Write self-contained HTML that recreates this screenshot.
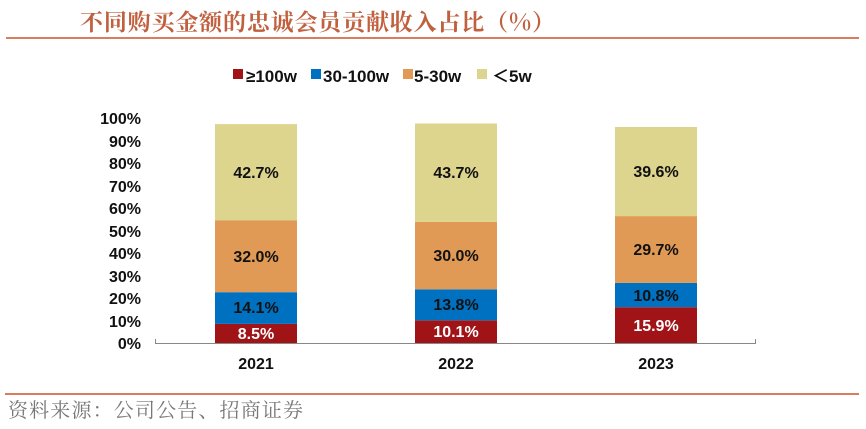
<!DOCTYPE html>
<html><head><meta charset="utf-8"><style>
body{margin:0;background:#fff;}
svg{display:block;}
</style></head><body>
<svg width="866" height="429" xmlns="http://www.w3.org/2000/svg" font-family="Liberation Sans, Noto Sans CJK SC, sans-serif">
<text x="80" y="30" font-size="23" fill="#c0603f" font-family="Noto Serif CJK SC, serif" font-weight="bold" textLength="475">不同购买金额的忠诚会员贡献收入占比（%）</text>
<rect x="6" y="37" width="853" height="2" fill="#d97d5f"/>
<rect x="5" y="393" width="854" height="2" fill="#d97d5f"/>
<text x="8" y="417" font-size="20" fill="#777" font-family="Noto Serif CJK SC, serif" textLength="295">资料来源：公司公告、招商证券</text>
<g font-size="17" font-weight="bold" fill="#111">
<rect x="233" y="69" width="10" height="10" fill="#a01418"/><text x="246" y="82">≥100w</text>
<rect x="311" y="69" width="10" height="10" fill="#0070c0"/><text x="323" y="82">30-100w</text>
<rect x="403" y="69" width="10" height="10" fill="#e09a55"/><text x="414" y="82">5-30w</text>
<rect x="477" y="69" width="10" height="10" fill="#ddd48e"/><text x="492" y="82">＜5w</text>
</g>
<g font-size="16" font-weight="bold" fill="#111" text-anchor="end">
<text x="141" y="124">100%</text><text x="141" y="147">90%</text><text x="141" y="169">80%</text><text x="141" y="192">70%</text><text x="141" y="214">60%</text><text x="141" y="237">50%</text><text x="141" y="259">40%</text><text x="141" y="282">30%</text><text x="141" y="304">20%</text><text x="141" y="327">10%</text><text x="141" y="349">0%</text>
</g>
<rect x="215" y="323.9" width="82" height="19.1" fill="#a01418"/>
<rect x="215" y="292.2" width="82" height="31.7" fill="#0070c0"/>
<rect x="215" y="220.2" width="82" height="72" fill="#e09a55"/>
<rect x="215" y="124.1" width="82" height="96.1" fill="#ddd48e"/>
<rect x="415" y="320.3" width="82" height="22.7" fill="#a01418"/>
<rect x="415" y="289.3" width="82" height="31" fill="#0070c0"/>
<rect x="415" y="221.8" width="82" height="67.5" fill="#e09a55"/>
<rect x="415" y="123.5" width="82" height="98.3" fill="#ddd48e"/>
<rect x="615" y="307.2" width="82" height="35.8" fill="#a01418"/>
<rect x="615" y="282.9" width="82" height="24.3" fill="#0070c0"/>
<rect x="615" y="216.1" width="82" height="66.8" fill="#e09a55"/>
<rect x="615" y="127" width="82" height="89.1" fill="#ddd48e"/>
<path d="M155.5 339V343.5H755.5V339" stroke="#888" fill="none"/>
<g font-size="16" font-weight="bold" text-anchor="middle" fill="#111">
<text x="256" y="339" fill="#fff">8.5%</text><text x="256" y="313">14.1%</text><text x="256" y="262">32.0%</text><text x="256" y="178">42.7%</text>
<text x="456" y="337" fill="#fff">10.1%</text><text x="456" y="310">13.8%</text><text x="456" y="261">30.0%</text><text x="456" y="178">43.7%</text>
<text x="656" y="331" fill="#fff">15.9%</text><text x="656" y="301">10.8%</text><text x="656" y="255">29.7%</text><text x="656" y="177">39.6%</text>
<text x="256" y="369">2021</text><text x="456" y="369">2022</text><text x="656" y="369">2023</text>
</g>
</svg>
</body></html>
